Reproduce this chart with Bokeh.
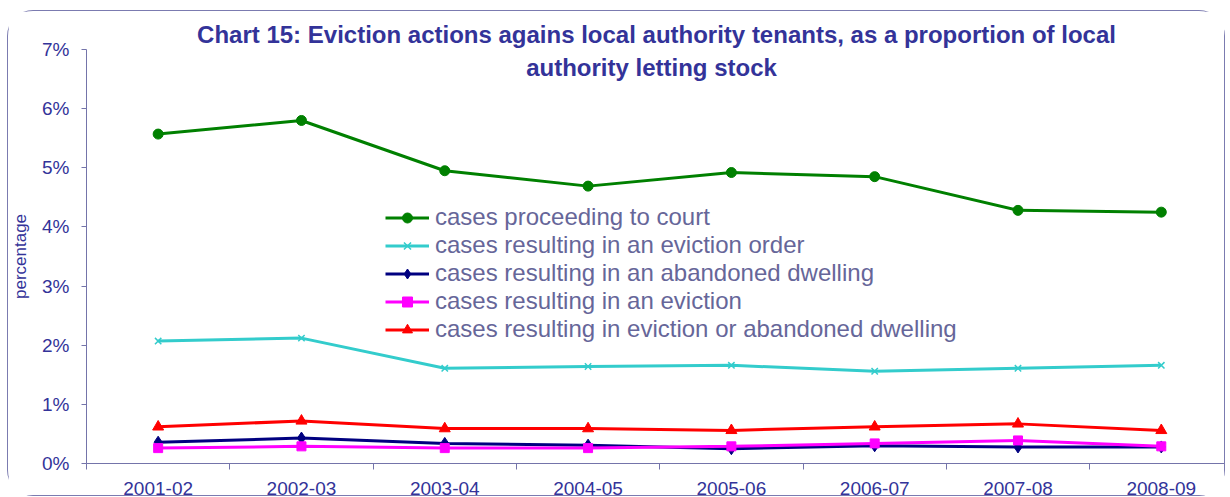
from bokeh.plotting import figure
from bokeh.models import Range1d, FixedTicker, PrintfTickFormatter, Label, Legend, LegendItem, Title
from bokeh.embed import file_html
from bokeh.resources import INLINE

years = ["2001-02", "2002-03", "2003-04", "2004-05", "2005-06", "2006-07", "2007-08", "2008-09"]
court = [5.57, 5.80, 4.95, 4.69, 4.92, 4.85, 4.28, 4.25]
order = [2.07, 2.12, 1.61, 1.64, 1.66, 1.56, 1.61, 1.66]
abandoned = [0.36, 0.43, 0.34, 0.31, 0.25, 0.30, 0.28, 0.28]
eviction = [0.26, 0.29, 0.26, 0.26, 0.29, 0.34, 0.39, 0.29]
either = [0.62, 0.72, 0.59, 0.59, 0.56, 0.62, 0.67, 0.56]
y_ticks = [0, 1, 2, 3, 4, 5, 6, 7]

FONT = "Liberation Sans"
AXIS_COL = "#7474aa"
TXT_COL = "#333399"

xs = [i + 0.5 for i in range(len(years))]

p = figure(width=1218, height=486, output_backend="svg", toolbar_location=None,
           x_range=Range1d(0, 7.955), y_range=Range1d(0, 7),
           min_border_top=38, min_border_left=78, min_border_right=0, min_border_bottom=0)
p.styles = {"border": "1px solid #7b7bb0", "border-radius": "26px", "box-sizing": "border-box",
            "margin-left": "7px", "margin-top": "10px"}
p.outline_line_color = None
p.xgrid.grid_line_color = None
p.ygrid.grid_line_color = None
p.background_fill_color = "white"
p.border_fill_color = "white"

series = [
    ("cases proceeding to court", court, "#008000", "circle", 10),
    ("cases resulting in an eviction order", order, "#33cccc", "x", 9),
    ("cases resulting in an abandoned dwelling", abandoned, "#000080", "diamond", 12),
    ("cases resulting in an eviction", eviction, "#ff00ff", "square", 9),
    ("cases resulting in eviction or abandoned dwelling", either, "#ff0000", "triangle", 11),
]

items = []
for name, vals, col, mk, sz in series:
    r1 = p.line(xs, vals, line_color=col, line_width=3)
    r2 = p.scatter(xs, vals, marker=mk, size=sz, fill_color=col, line_color=col,
                   line_width=1.5 if mk == "x" else 1)
    items.append(LegendItem(label=name, renderers=[r1, r2]))

legend = Legend(items=items, location=(299, 120), background_fill_alpha=0, border_line_color=None,
                label_text_font=FONT, label_text_font_size="24px", label_text_color="#666699",
                glyph_width=44, glyph_height=25, label_height=25, spacing=0, label_standoff=6,
                padding=4, margin=0)
p.add_layout(legend, "center")

# x axis
xa = p.xaxis[0]
xa.ticker = FixedTicker(ticks=xs, minor_ticks=list(range(len(years) + 1)))
xa.major_label_overrides = {x: y for x, y in zip(xs, years)}
xa.major_tick_out = 0
xa.major_tick_in = 0
xa.minor_tick_out = 6
xa.minor_tick_in = 0
xa.axis_line_color = AXIS_COL
xa.minor_tick_line_color = AXIS_COL
xa.major_label_text_font = FONT
xa.major_label_text_font_size = "19px"
xa.major_label_text_color = TXT_COL
xa.major_label_standoff = 12

# y axis
ya = p.yaxis[0]
ya.ticker = FixedTicker(ticks=y_ticks, minor_ticks=[])
ya.formatter = PrintfTickFormatter(format="%d%%")
ya.major_tick_out = 5
ya.major_tick_in = 0
ya.axis_line_color = AXIS_COL
ya.major_tick_line_color = AXIS_COL
ya.major_label_text_font = FONT
ya.major_label_text_font_size = "19px"
ya.major_label_text_color = TXT_COL
ya.major_label_standoff = 12
ya.axis_label = "percentage"
ya.axis_label_text_font = FONT
ya.axis_label_text_font_style = "normal"
ya.axis_label_text_font_size = "17px"
ya.axis_label_text_color = TXT_COL
ya.axis_label_standoff = 9

title = Title(text="Chart 15: Eviction actions agains local authority tenants, as a proportion of local",
              align="center", text_font=FONT, text_font_size="24px", text_font_style="bold",
              text_color=TXT_COL, standoff=4)
p.add_layout(title, "above")

t2 = Label(x=565, y=396, x_units="screen", y_units="screen",
           text="authority letting stock",
           text_align="center", text_baseline="middle", text_font=FONT, text_font_size="24px",
           text_font_style="bold", text_color=TXT_COL)
p.add_layout(t2)

open("out.html", "w").write(file_html(p, INLINE))
